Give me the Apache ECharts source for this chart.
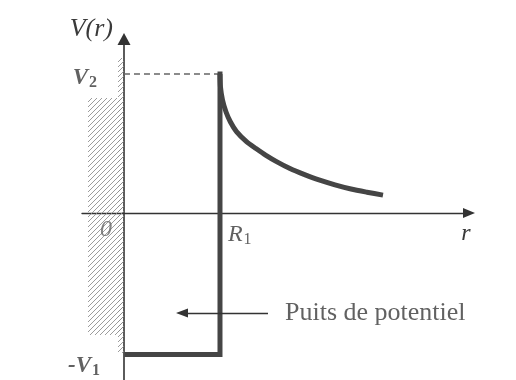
<!DOCTYPE html>
<html><head><meta charset="utf-8">
<script src="https://cdn.jsdelivr.net/npm/echarts@6/dist/echarts.min.js"></script>
<style>html,body{margin:0;padding:0;background:#fff}#c{width:516px;height:380px}</style>
</head><body><div id="c"></div>
<script>
// r in units of R1, V in units of V2
const wellPath = [[0.03,-1.018],[1.0,-1.018],[1.0,1.0]];
const barrierCurve = [[1.0,1.0],[1.005,0.906],[1.026,0.813],[1.063,0.727],[1.109,0.655],[1.172,0.586],[1.276,0.514],[1.375,0.464],[1.479,0.415],[1.594,0.368],[1.729,0.320],[1.875,0.278],[2.031,0.238],[2.198,0.203],[2.365,0.173],[2.531,0.150],[2.698,0.129]];
const v2Level = [[0,1.0],[1.0,1.0]];
const hatchRegions = [[-0.375,0,0.827,-0.878],[-0.0625,0,1.115,-1.007]];
const wellArrow = [[1.5,-0.719],[0.604,-0.719]];
const labelTexts = ['0','R1','V2','-V1','Puits de potentiel'];
const labelAnchors = [[-0.1875,-0.122],[1.083,-0.158],[-0.281,0.971],[-0.25,-1.10],[1.677,-0.719]];

const tile = document.createElement('canvas');
tile.width = 5; tile.height = 5;
const g = tile.getContext('2d');
g.strokeStyle = '#8a8a8a'; g.lineWidth = 0.85;
g.beginPath();
g.moveTo(0,5); g.lineTo(5,0);
g.moveTo(-1,1); g.lineTo(1,-1);
g.moveTo(4,6); g.lineTo(6,4);
g.stroke();

const serif = '"Liberation Serif","DejaVu Serif",serif';
const ink = '#3a3a3a';
const rich = {
  n:{fontFamily:serif,fontSize:24,color:'#666',fontStyle:'italic'},
  i:{fontFamily:serif,fontSize:24,color:ink,fontStyle:'italic'},
  s:{fontFamily:serif,fontSize:16,color:ink,padding:[10,0,0,1]},
  b:{fontFamily:serif,fontSize:23,color:ink,fontStyle:'italic',fontWeight:'bold'},
  bs:{fontFamily:serif,fontSize:16,color:ink,fontWeight:'bold',padding:[10,0,0,1]},
  t:{fontFamily:serif,fontSize:26,color:ink}
};
const fmt = {'0':'{n|0}','R1':'{i|R}{s|1}','V2':'{b|V}{bs|2}','-V1':'{b|-V}{bs|1}','Puits de potentiel':'{t|Puits de potentiel}'};
const aligns = {'0':'center','R1':'left','V2':'right','-V1':'right','Puits de potentiel':'left'};

const chart = echarts.init(document.getElementById('c'), null, {renderer:'canvas'});
chart.setOption({
  animation:false,
  backgroundColor:'#fff',
  grid:{left:82,right:47,top:39,bottom:0,containLabel:false},
  xAxis:{type:'value',min:-0.4375,max:3.594,
    axisLine:{show:true,onZero:true,symbol:['none','triangle'],symbolSize:[10,12],lineStyle:{color:'#333',width:1.4}},
    axisTick:{show:false},axisLabel:{show:false},splitLine:{show:false},
    name:'r',nameLocation:'end',nameGap:1.5,
    nameTextStyle:{fontFamily:serif,fontSize:24,fontStyle:'italic',color:ink,align:'right',verticalAlign:'top',padding:[9,0,0,0]}},
  yAxis:{type:'value',min:-1.201,max:1.252,
    axisLine:{show:true,onZero:true,symbol:['none','triangle'],symbolSize:[13,12],lineStyle:{color:'#333',width:1.6}},
    axisTick:{show:false},axisLabel:{show:false},splitLine:{show:false},
    name:'V(r)',nameLocation:'end',nameGap:-3.5,
    nameTextStyle:{fontFamily:serif,fontSize:26,fontStyle:'italic',color:ink,align:'right',verticalAlign:'bottom',padding:[0,11,0,0]}},
  series:[
    {type:'custom',z:1,silent:true,clip:false,encode:{x:[0,1],y:[2,3]},data:hatchRegions,
      renderItem:(params,api)=>{
        const p0=api.coord([api.value(0),api.value(2)]);
        const p1=api.coord([api.value(1),api.value(3)]);
        return {type:'rect',shape:{x:p0[0],y:p0[1],width:p1[0]-p0[0],height:p1[1]-p0[1]},style:{fill:{image:tile,repeat:'repeat'}}};
      }},
    {type:'line',data:v2Level,symbol:'none',silent:true,lineStyle:{color:'#666',width:1.4,type:[6,4]}},
    {type:'line',data:wellPath,symbol:'none',silent:true,lineStyle:{color:'#454545',width:5,join:'miter',cap:'square'}},
    {type:'line',data:barrierCurve,symbol:'none',smooth:0.25,silent:true,lineStyle:{color:'#454545',width:5,cap:'butt',join:'round'}},
    {type:'line',data:[],symbol:'none',markLine:{silent:true,symbol:['none','triangle'],symbolSize:[9,12],
      lineStyle:{color:'#333',width:1.4,type:'solid'},label:{show:false},
      data:[[{coord:wellArrow[0]},{coord:wellArrow[1]}]]}},
    {type:'scatter',symbolSize:0,clip:false,silent:true,z:5,
      data:labelTexts.map((t,k)=>({value:labelAnchors[k],name:t,
        label:{show:true,position:'inside',align:aligns[t],verticalAlign:'middle',formatter:fmt[t],rich:rich}}))}
  ]
});
</script></body></html>
